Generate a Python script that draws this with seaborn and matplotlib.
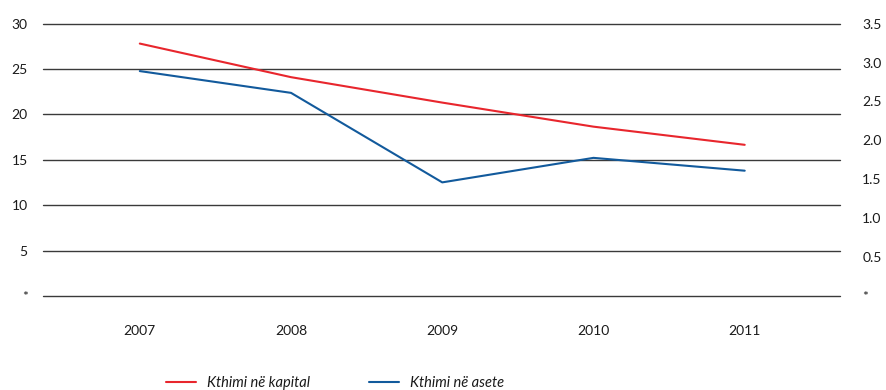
import matplotlib
matplotlib.use("Agg")
import matplotlib.pyplot as plt
from matplotlib.lines import Line2D
import seaborn as sns
import pandas as pd

years = [2007, 2008, 2009, 2010, 2011]
kthimi_kapital = [27.8, 24.1, 21.3, 18.65, 16.65]   # left axis
kthimi_asete = [2.89, 2.61, 1.46, 1.775, 1.61]      # right axis

left_ticks = [0, 5, 10, 15, 20, 25, 30]
left_labels = ["*", "5", "10", "15", "20", "25", "30"]
right_ticks = [0, 0.5, 1.0, 1.5, 2.0, 2.5, 3.0, 3.5]
right_labels = ["*", "0.5", "1.0", "1.5", "2.0", "2.5", "3.0", "3.5"]

label_kapital = "Kthimi në kapital"
label_asete = "Kthimi në asete"

RED = "#e8262d"
BLUE = "#125a9c"
GRID = "#3a3a3a"
TEXT = "#1a1a1a"

sns.set_style("white")
plt.rcParams["font.family"] = ["Lato", "DejaVu Sans"]

df = pd.DataFrame({"year": years, "kapital": kthimi_kapital, "asete": kthimi_asete})

fig = plt.figure(figsize=(8.87, 3.90), dpi=100)
ax = fig.add_axes([0.0485, 0.241, 0.8985, 0.6985])
ax2 = ax.twinx()

sns.lineplot(data=df, x="year", y="kapital", ax=ax, color=RED, linewidth=1.5, zorder=3)
sns.lineplot(data=df, x="year", y="asete", ax=ax2, color=BLUE, linewidth=1.5, zorder=3)

ax.set_xlim(2006.36, 2011.63)
ax.set_ylim(0, 30)
ax2.set_ylim(0, 3.5)

ax.set_xticks(years)
ax.set_xticklabels([str(y) for y in years])
ax.set_yticks(left_ticks)
ax.set_yticklabels(left_labels)
ax2.set_yticks(right_ticks)
ax2.set_yticklabels(right_labels)

# horizontal rules at each left-axis tick
for t in left_ticks:
    ax.axhline(t, color=GRID, linewidth=1.0, zorder=1, clip_on=False)

ax.tick_params(axis="x", length=0, pad=21, labelsize=10, colors=TEXT)
ax.tick_params(axis="y", length=0, pad=11, labelsize=10, colors=TEXT)
ax2.tick_params(axis="y", length=0, pad=16, labelsize=10, colors=TEXT)

ax.set_xlabel("")
ax.set_ylabel("")
ax2.set_ylabel("")
for a in (ax, ax2):
    for s in a.spines.values():
        s.set_visible(False)

handles = [Line2D([], [], color=RED, linewidth=1.5),
           Line2D([], [], color=BLUE, linewidth=1.5)]
fig.legend(handles, [label_kapital, label_asete], loc="center left",
           bbox_to_anchor=(0.172, 0.018), ncol=2, frameon=False,
           prop={"style": "italic", "size": 10.5}, handlelength=2.05,
           handletextpad=0.75, columnspacing=4.1, labelcolor=TEXT)

fig.savefig("out.png", dpi=100)
